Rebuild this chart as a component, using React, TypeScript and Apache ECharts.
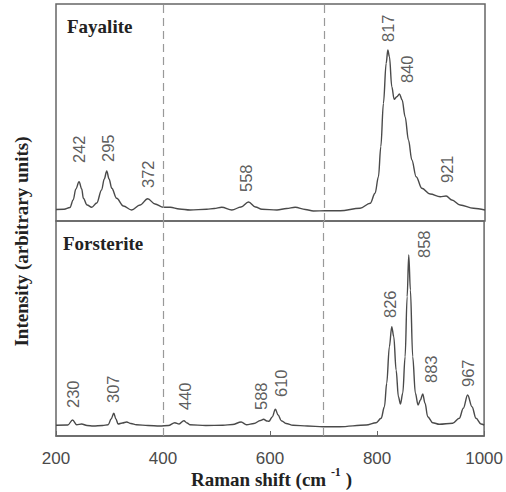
import React, { useEffect, useRef } from "react";
import * as echarts from "echarts";

// Raman shift axis
const xTicks = [200, 400, 600, 800, 1000];
const dividerShifts = [400, 700];

// Fayalite spectrum (Raman shift cm-1, intensity a.u.)
const fayaliteShift = [200, 215, 226, 232, 237, 243, 248, 251, 258, 266.6, 276, 285, 290, 294.6, 299, 304, 313, 325.6, 341, 356.7, 371, 384.7, 400, 413, 430, 450, 481, 495, 509, 528, 545, 559, 572, 584, 612, 630, 646, 665, 680, 702, 730, 767, 786, 795, 801.3, 805.7, 810.6, 815.7, 818.8, 821.8, 826.2, 830.6, 835.6, 840.5, 845.5, 851, 857.3, 863.6, 871.6, 882.3, 897.8, 916.4, 927.6, 938.2, 953.7, 978.5, 1000];
const fayaliteIntensity = [11.5, 11.7, 13.5, 21, 32, 39.3, 32, 22.7, 16, 13.7, 18, 31, 42, 50, 42, 32.7, 22.7, 15, 11, 16, 22.3, 17, 13.7, 13.7, 12, 11, 11.7, 12.5, 13.7, 11, 14, 19, 14, 11.7, 11, 12.5, 13.7, 11.5, 10, 10.3, 10.3, 12.7, 17.7, 27.7, 44.3, 74.3, 117.7, 157.7, 171, 164.3, 134.3, 121.7, 124.3, 127, 121, 104.3, 81, 61, 44.3, 32.7, 27, 24.3, 25, 21, 16, 12.7, 11];

// Forsterite spectrum
const forsteriteShift = [200, 222, 231, 238.6, 248, 258, 269.6, 287, 297.6, 303, 308, 312, 316, 324, 332, 340, 350.5, 372, 394, 410, 422, 430, 439, 445, 450, 480, 512, 530, 546, 556, 570, 582, 588, 594, 598, 604, 610, 615, 621, 630, 643, 670, 699, 730, 779.6, 798.3, 807.6, 813.8, 818, 823, 827.4, 831.2, 835.6, 839.9, 843.7, 848, 852.4, 856.2, 859.2, 862.3, 866.6, 871.6, 876.6, 881, 885.3, 889.7, 894.6, 903.9, 916.4, 941.2, 953.7, 961.2, 969.2, 977.4, 984.9, 994.2, 1000];
const forsteriteIntensity = [10.7, 11, 16, 11.3, 12, 10.5, 10, 10.5, 11.3, 17, 22.7, 17, 12, 13, 14, 12.5, 11.3, 10.5, 10, 10.5, 13.3, 12, 15.3, 13, 11.3, 10.5, 10.7, 11.5, 14, 11.3, 12.5, 15.5, 16.7, 15, 14.7, 19, 26.7, 21, 15.3, 12.5, 10.7, 10, 9.3, 9.3, 11, 13.3, 17.7, 29.3, 52.7, 89.3, 109.3, 99.3, 66, 39.3, 32, 42.7, 79.3, 139.3, 181, 146, 79.3, 42.7, 31, 36, 42, 32.7, 19.3, 13.3, 11.7, 12.7, 17.7, 27.7, 41, 29.3, 17.7, 12, 11];

// Peak annotations: name, label anchor shift, label anchor intensity
const fayalitePeakNames = ["242", "295", "372", "558", "817", "840", "921"];
const fayalitePeakLabelShift = [243, 297, 372, 554, 819, 855, 929];
const fayalitePeakLabelLevel = [58, 59, 33, 29, 179, 138, 38];

const forsteritePeakNames = ["230", "307", "440", "588", "610", "826", "858", "883", "967"];
const forsteritePeakLabelShift = [232, 306, 441, 584, 620, 825, 887, 901, 969];
const forsteritePeakLabelLevel = [28, 33, 26, 26, 39, 118, 178, 53, 49];

const SANS = "'Liberation Sans', Arial, sans-serif";
const SERIF = "'Liberation Serif', 'Times New Roman', serif";

function zip(a: number[], b: number[]) {
  return a.map((v, i) => [v, b[i]]);
}

function peakData(names: string[], xs: number[], ys: number[]) {
  return names.map((n, i) => ({ name: n, value: [xs[i], ys[i]] }));
}

export default function App() {
  const ref = useRef<HTMLDivElement>(null);

  useEffect(() => {
    if (!ref.current) return;
    const chart = echarts.init(ref.current, undefined, { renderer: "svg" });

    const gridCommon = {
      left: 56,
      width: 429,
      show: true,
      borderColor: "#666",
      borderWidth: 1.5,
      backgroundColor: "transparent",
    };

    const markLine = {
      silent: true,
      symbol: ["none", "none"],
      label: { show: false },
      lineStyle: { type: [8, 5] as any, color: "#999", width: 1.2 },
      data: dividerShifts.map((v) => ({ xAxis: v })),
    };

    const lineSeries = (xi: number, xs: number[], ys: number[]) => ({
      type: "line",
      xAxisIndex: xi,
      yAxisIndex: xi,
      data: zip(xs, ys),
      showSymbol: false,
      smooth: 0.35,
      smoothMonotone: "x",
      lineStyle: { color: "#4a4a4a", width: 1.4 },
      silent: true,
      markLine,
    });

    const labelSeries = (xi: number, names: string[], xs: number[], ys: number[]) => ({
      type: "scatter",
      xAxisIndex: xi,
      yAxisIndex: xi,
      symbolSize: 0,
      silent: true,
      data: peakData(names, xs, ys),
      label: {
        show: true,
        position: "inside",
        formatter: (p: any) => p.name,
        rotate: 90,
        align: "left",
        verticalAlign: "middle",
        fontFamily: SANS,
        fontSize: 16.5,
        color: "#333",
      },
    });

    const hiddenX = (gi: number) => ({
      gridIndex: gi,
      type: "value",
      min: xTicks[0],
      max: xTicks[xTicks.length - 1],
      interval: 200,
      axisLine: { show: false },
      axisTick: { show: false },
      axisLabel: { show: false },
      splitLine: { show: false },
    });

    chart.setOption({
      animation: false,
      backgroundColor: "#fff",
      grid: [
        { ...gridCommon, top: 4, height: 217 },
        { ...gridCommon, top: 221, height: 215 },
      ],
      xAxis: [
        hiddenX(0),
        {
          gridIndex: 1,
          type: "value",
          min: xTicks[0],
          max: xTicks[xTicks.length - 1],
          interval: 200,
          axisLine: { show: true, lineStyle: { color: "#666", width: 1.5 } },
          axisTick: { show: true, inside: true, length: 5, lineStyle: { color: "#666" } },
          axisLabel: {
            show: true,
            margin: 14,
            fontFamily: SANS,
            fontSize: 17,
            color: "#4a4a4a",
            formatter: (v: number) => String(v),
          },
          splitLine: { show: false },
        },
      ],
      yAxis: [
        { gridIndex: 0, type: "value", min: 0, max: 217, show: false },
        { gridIndex: 1, type: "value", min: 0, max: 215, show: false },
      ],
      series: [
        lineSeries(0, fayaliteShift, fayaliteIntensity),
        lineSeries(1, forsteriteShift, forsteriteIntensity),
        labelSeries(0, fayalitePeakNames, fayalitePeakLabelShift, fayalitePeakLabelLevel),
        labelSeries(1, forsteritePeakNames, forsteritePeakLabelShift, forsteritePeakLabelLevel),
      ],
      graphic: [
        {
          type: "text",
          x: 67,
          y: 26.5,
          style: {
            text: "Fayalite",
            font: `bold 19px ${SERIF}`,
            fill: "#222",
            textAlign: "left",
            textVerticalAlign: "middle",
          },
        },
        {
          type: "text",
          x: 63,
          y: 243.5,
          style: {
            text: "Forsterite",
            font: `bold 19px ${SERIF}`,
            fill: "#222",
            textAlign: "left",
            textVerticalAlign: "middle",
          },
        },
        {
          type: "text",
          x: 21,
          y: 241.5,
          rotation: Math.PI / 2,
          style: {
            text: "Intensity (arbitrary units)",
            font: `bold 19px ${SERIF}`,
            fill: "#222",
            textAlign: "center",
            textVerticalAlign: "middle",
          },
        },
        {
          type: "text",
          x: 271.5,
          y: 479,
          style: {
            text: "{m|Raman shift (cm }{s|-1}{m| )}",
            textAlign: "center",
            textVerticalAlign: "middle",
            fill: "#222",
            rich: {
              m: {
                fontFamily: SERIF,
                fontWeight: "bold",
                fontSize: 19,
                lineHeight: 26,
                fill: "#222",
              },
              s: {
                fontFamily: SERIF,
                fontWeight: "bold",
                fontSize: 12,
                lineHeight: 12,
                verticalAlign: "top",
                fill: "#222",
              },
            },
          },
        },
      ],
    });

    return () => chart.dispose();
  }, []);

  return (
    <div
      ref={ref}
      style={{ position: "absolute", left: 0, top: 0, width: 506, height: 492 }}
    />
  );
}
